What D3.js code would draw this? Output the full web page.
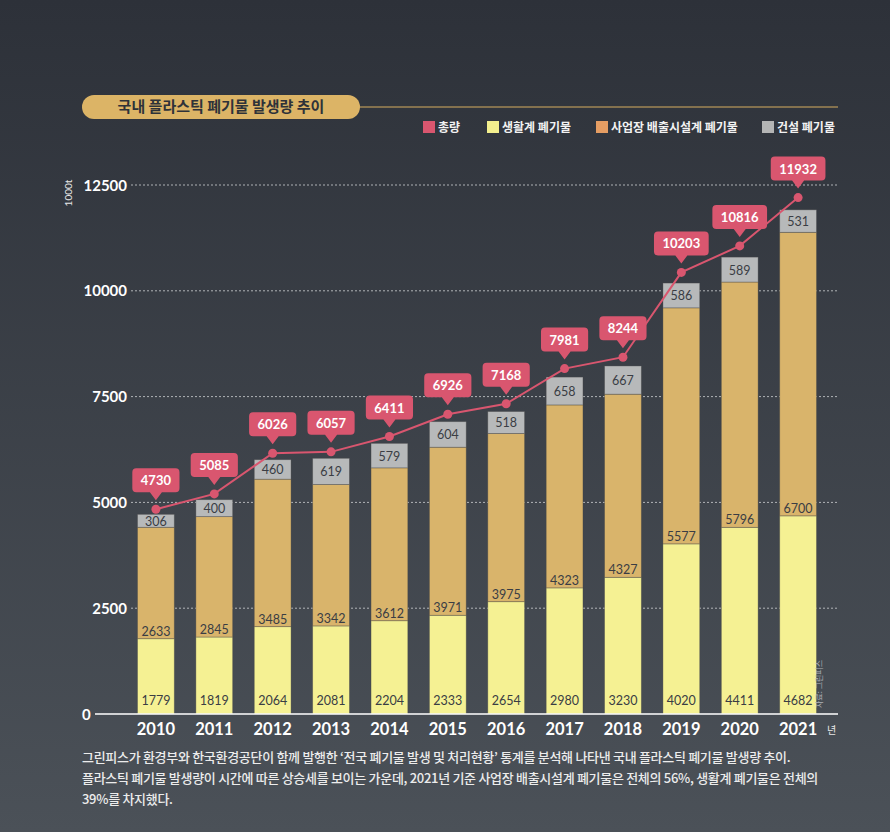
<!DOCTYPE html>
<html><head><meta charset="utf-8">
<script src="https://cdn.jsdelivr.net/npm/d3@7"></script>
<style>
html,body{margin:0;padding:0;}
body{width:890px;height:832px;overflow:hidden;}
</style></head>
<body>
<svg id="c" width="890" height="832"></svg>
<script>
const years = [2010,2011,2012,2013,2014,2015,2016,2017,2018,2019,2020,2021];
const household = [1779,1819,2064,2081,2204,2333,2654,2980,3230,4020,4411,4682];
const industrial = [2633,2845,3485,3342,3612,3971,3975,4323,4327,5577,5796,6700];
const construction = [306,400,460,619,579,604,518,658,667,586,589,531];
const totals = [4730,5085,6026,6057,6411,6926,7168,7981,8244,10203,10816,11932];
const yTicks = [0,2500,5000,7500,10000,12500];
const legendItems = [
  {label:"총량", color:"#d9566f"},
  {label:"생활계 폐기물", color:"#f3ef8e"},
  {label:"사업장 배출시설계 폐기물", color:"#e59d63"},
  {label:"건설 폐기물", color:"#b4b5b5"}
];
const title = "국내 플라스틱 폐기물 발생량 추이";
const caption = [
  "그린피스가 환경부와 한국환경공단이 함께 발행한 ‘전국 폐기물 발생 및 처리현황’ 통계를 분석해 나타낸 국내 플라스틱 폐기물 발생량 추이.",
  "플라스틱 폐기물 발생량이 시간에 따른 상승세를 보이는 가운데, 2021년 기준 사업장 배출시설계 폐기물은 전체의 56%, 생활계 폐기물은 전체의",
  "39%를 차지했다."
];

const KR = "'Noto Sans CJK KR','Noto Sans',sans-serif";
const NUM = "Lato,'Noto Sans',sans-serif";
const svg = d3.select("#c");

// background
const defs = svg.append("defs");
const g0 = defs.append("linearGradient").attr("id","bg").attr("x1",0).attr("y1",0).attr("x2",0).attr("y2",1);
g0.append("stop").attr("offset","0%").attr("stop-color","#2d3139");
g0.append("stop").attr("offset","100%").attr("stop-color","#4b5158");
svg.append("rect").attr("width",890).attr("height",832).attr("fill","url(#bg)");

const x = d3.scaleBand().domain(years).range([127,827]).paddingInner(0.37).paddingOuter(0.18);
const y = d3.scaleLinear().domain([0,12500]).range([714,185]);
const yLine = d3.scaleLinear().domain([0,12500]).range([714,173]);

// title pill
svg.append("line").attr("x1",350).attr("x2",838).attr("y1",107).attr("y2",107).attr("stroke","#d7ae60").attr("stroke-width",1);
svg.append("rect").attr("x",82).attr("y",95).attr("width",278).attr("height",24).attr("rx",12).attr("fill","#dcb466");
svg.append("text").attr("x",221).attr("y",112).attr("text-anchor","middle").attr("font-family",KR).attr("font-weight",700).attr("font-size",15).attr("fill","#2e3239").text(title);

// legend
const legX = [423,487,596,762];
legendItems.forEach((d,i)=>{
  svg.append("rect").attr("x",legX[i]).attr("y",121).attr("width",12).attr("height",12).attr("fill",d.color);
  svg.append("text").attr("x",legX[i]+15).attr("y",131.5).attr("font-family",KR).attr("font-weight",700).attr("font-size",12).attr("fill","#f2f2f2").text(d.label);
});

// gridlines
svg.append("g").selectAll("line").data(yTicks.filter(t=>t>0)).join("line")
  .attr("x1",131).attr("x2",838).attr("y1",d=>y(d)).attr("y2",d=>y(d))
  .attr("stroke","#d8dadc").attr("stroke-width",1).attr("stroke-dasharray","2,2").attr("opacity",0.75);

// y tick labels
svg.append("g").selectAll("text").data(yTicks).join("text")
  .attr("x",d=>d===0?82:127).attr("y",d=>y(d)+5.5)
  .attr("text-anchor",d=>d===0?"start":"end")
  .attr("font-family",NUM).attr("font-weight",700).attr("font-size",15).attr("fill","#ffffff").text(d=>d);

svg.append("text").attr("transform","translate(72,193) rotate(-90)").attr("text-anchor","middle")
  .attr("font-family",NUM).attr("font-size",10).attr("fill","#e8e8e8").text("1000t");

// bars
const stackData = years.map((yr,i)=>({year:yr, h:household[i], ind:industrial[i], c:construction[i]}));
const series = d3.stack().keys(["h","ind","c"])(stackData);
const barColors = {h:"#f5f193", ind:"#d9b46b", c:"#b7b9ba"};
svg.append("g").selectAll("g").data(series).join("g")
  .attr("fill",s=>barColors[s.key])
  .selectAll("rect").data(s=>s).join("rect")
  .attr("x",d=>x(d.data.year)).attr("width",x.bandwidth())
  .attr("y",d=>y(d[1])).attr("height",d=>y(d[0])-y(d[1]))
  .attr("stroke","rgba(70,70,70,0.45)").attr("stroke-width",0.8);

// baseline
svg.append("line").attr("x1",95).attr("x2",838).attr("y1",y(0)).attr("y2",y(0)).attr("stroke","#ffffff").attr("stroke-width",1.5);

// bar labels
const lbl = svg.append("g").attr("font-family",NUM).attr("font-size",12.5).attr("fill","#3a3d44").attr("text-anchor","middle");
stackData.forEach(d=>{
  const cx = x(d.year)+x.bandwidth()/2;
  lbl.append("text").attr("x",cx).attr("y",y(0)-9).text(d.h);
  lbl.append("text").attr("x",cx).attr("y",y(d.h)-3).text(d.ind);
  const t = d.h+d.ind+d.c, b = d.h+d.ind;
  lbl.append("text").attr("x",cx).attr("y",(y(t)+y(b))/2+5).text(d.c);
});

// year labels
svg.append("g").selectAll("text").data(years).join("text")
  .attr("x",d=>x(d)+x.bandwidth()/2).attr("y",735).attr("text-anchor","middle")
  .attr("font-family",NUM).attr("font-weight",700).attr("font-size",16.5).attr("fill","#ffffff").text(d=>d);
svg.append("text").attr("x",827).attr("y",734).attr("font-family",KR).attr("font-size",10).attr("fill","#e8e8e8").text("년");

// source
svg.append("text").attr("transform","translate(822,684) rotate(-90)").attr("text-anchor","middle")
  .attr("font-family",KR).attr("font-size",8).attr("fill","#aeb2b6").text("자료: 그린피스");

// total line
const pts = years.map((yr,i)=>({x:x(yr)+x.bandwidth()/2, y:yLine(totals[i]), v:totals[i]}));
svg.append("path").datum(pts).attr("d",d3.line().x(d=>d.x).y(d=>d.y))
  .attr("fill","none").attr("stroke","#d9566f").attr("stroke-width",2);
svg.append("g").selectAll("circle").data(pts).join("circle")
  .attr("cx",d=>d.x).attr("cy",d=>d.y).attr("r",4.5).attr("fill","#d9566f");

// callouts
const co = svg.append("g");
pts.forEach(p=>{
  const g = co.append("g");
  const t = g.append("text").attr("x",p.x).attr("y",p.y-25).attr("text-anchor","middle")
    .attr("font-family",NUM).attr("font-weight",700).attr("font-size",13).attr("fill","#ffffff").text(p.v);
  const w = t.node().getComputedTextLength()+17;
  const bottom = p.y-17, top = bottom-24;
  g.insert("path","text").attr("d",
    `M${p.x-w/2+4},${top} H${p.x+w/2-4} Q${p.x+w/2},${top} ${p.x+w/2},${top+4} V${bottom-4} Q${p.x+w/2},${bottom} ${p.x+w/2-4},${bottom} H${p.x+6} L${p.x},${bottom+8} L${p.x-6},${bottom} H${p.x-w/2+4} Q${p.x-w/2},${bottom} ${p.x-w/2},${bottom-4} V${top+4} Q${p.x-w/2},${top} ${p.x-w/2+4},${top} Z`)
    .attr("fill","#d9566f");
  t.attr("y",top+17);
});

// caption
svg.append("g").selectAll("text").data(caption).join("text")
  .attr("x",82).attr("y",(d,i)=>762+i*21)
  .attr("font-family",KR).attr("font-weight",500).attr("font-size",13).attr("fill","#ececec")
  .attr("letter-spacing",-0.3).text(d=>d);
</script>
</body></html>
